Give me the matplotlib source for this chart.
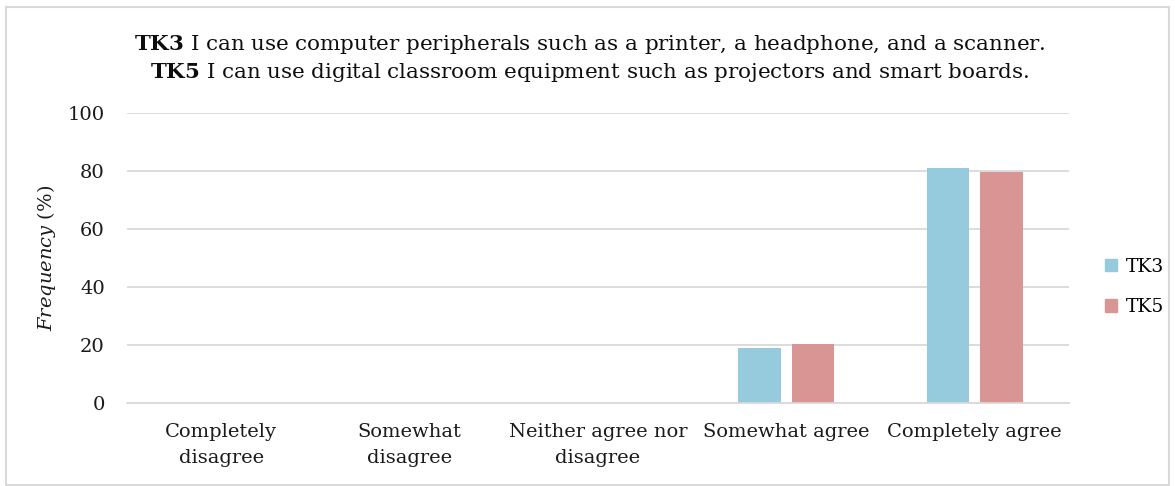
import matplotlib
matplotlib.use('agg')
import matplotlib.pyplot as plt
import matplotlib.patches as mpatches
import numpy as np

categories = ['Completely\ndisagree', 'Somewhat\ndisagree', 'Neither agree nor\ndisagree',
              'Somewhat agree', 'Completely agree']
series_names = ['TK3', 'TK5']
tk3 = [0, 0, 0, 18.8, 81.2]
tk5 = [0, 0, 0, 20.3, 79.7]
colors = ['#95cbdd', '#d99594']
yticks = [0, 20, 40, 60, 80, 100]

plt.rcParams['font.family'] = 'DejaVu Serif'
plt.rcParams['mathtext.fontset'] = 'custom'
plt.rcParams['mathtext.rm'] = 'DejaVu Serif'
plt.rcParams['mathtext.bf'] = 'DejaVu Serif:bold'
plt.rcParams['mathtext.it'] = 'DejaVu Serif:italic'

fig = plt.figure(figsize=(11.75, 4.86), dpi=100)
ax = fig.add_axes([127/1175, 1 - 403/486, (1069 - 127)/1175, (403 - 113)/486])

x = np.arange(len(categories))
w = 0.225
off = w/2 + 0.03
ax.bar(x - off, tk3, w, color=colors[0], label=series_names[0])
ax.bar(x + off, tk5, w, color=colors[1], label=series_names[1])

ax.set_xlim(-0.5, len(categories) - 0.5)
ax.set_ylim(0, 100)
ax.set_yticks(yticks)
ax.set_xticks(x)
ax.set_xticklabels(categories, fontsize=14, linespacing=1.55)
ax.tick_params(axis='y', length=0, pad=16, labelsize=14, colors='#1a1a1a')
ax.tick_params(axis='x', length=0, pad=14.5, colors='#1a1a1a')
ax.yaxis.grid(True, color='#d9d9d9', linewidth=1.3)
ax.set_axisbelow(True)
for s in ['top', 'right', 'left']:
    ax.spines[s].set_visible(False)
ax.spines['bottom'].set_color('#d9d9d9')
ax.spines['bottom'].set_linewidth(1.3)

ax.set_ylabel(r'$\it{Frequency}$ (%)', fontsize=14, labelpad=7, color='#1a1a1a')

fig.text(0.502, 1 - 45/486, r'$\bf{TK3}$ I can use computer peripherals such as a printer, a headphone, and a scanner.',
         ha='center', va='center', fontsize=15.4, color='#0d0d0d')
fig.text(0.502, 1 - 72/486, r'$\bf{TK5}$ I can use digital classroom equipment such as projectors and smart boards.',
         ha='center', va='center', fontsize=15.4, color='#0d0d0d')

handles = [mpatches.Patch(color=c) for c in colors]
fig.legend(handles, series_names, loc='center left', bbox_to_anchor=(1088/1175, 1 - 287/486),
           frameon=False, fontsize=13.5, handlelength=0.65, handleheight=0.65,
           handletextpad=0.45, labelspacing=1.2)

# light border around the whole chart
fig.patches.append(mpatches.Rectangle((6/1175, 1/486), 1163/1175, 478/486, transform=fig.transFigure,
                                      fill=False, edgecolor='#d9d9d9', linewidth=1.5))

fig.savefig('out.png')
